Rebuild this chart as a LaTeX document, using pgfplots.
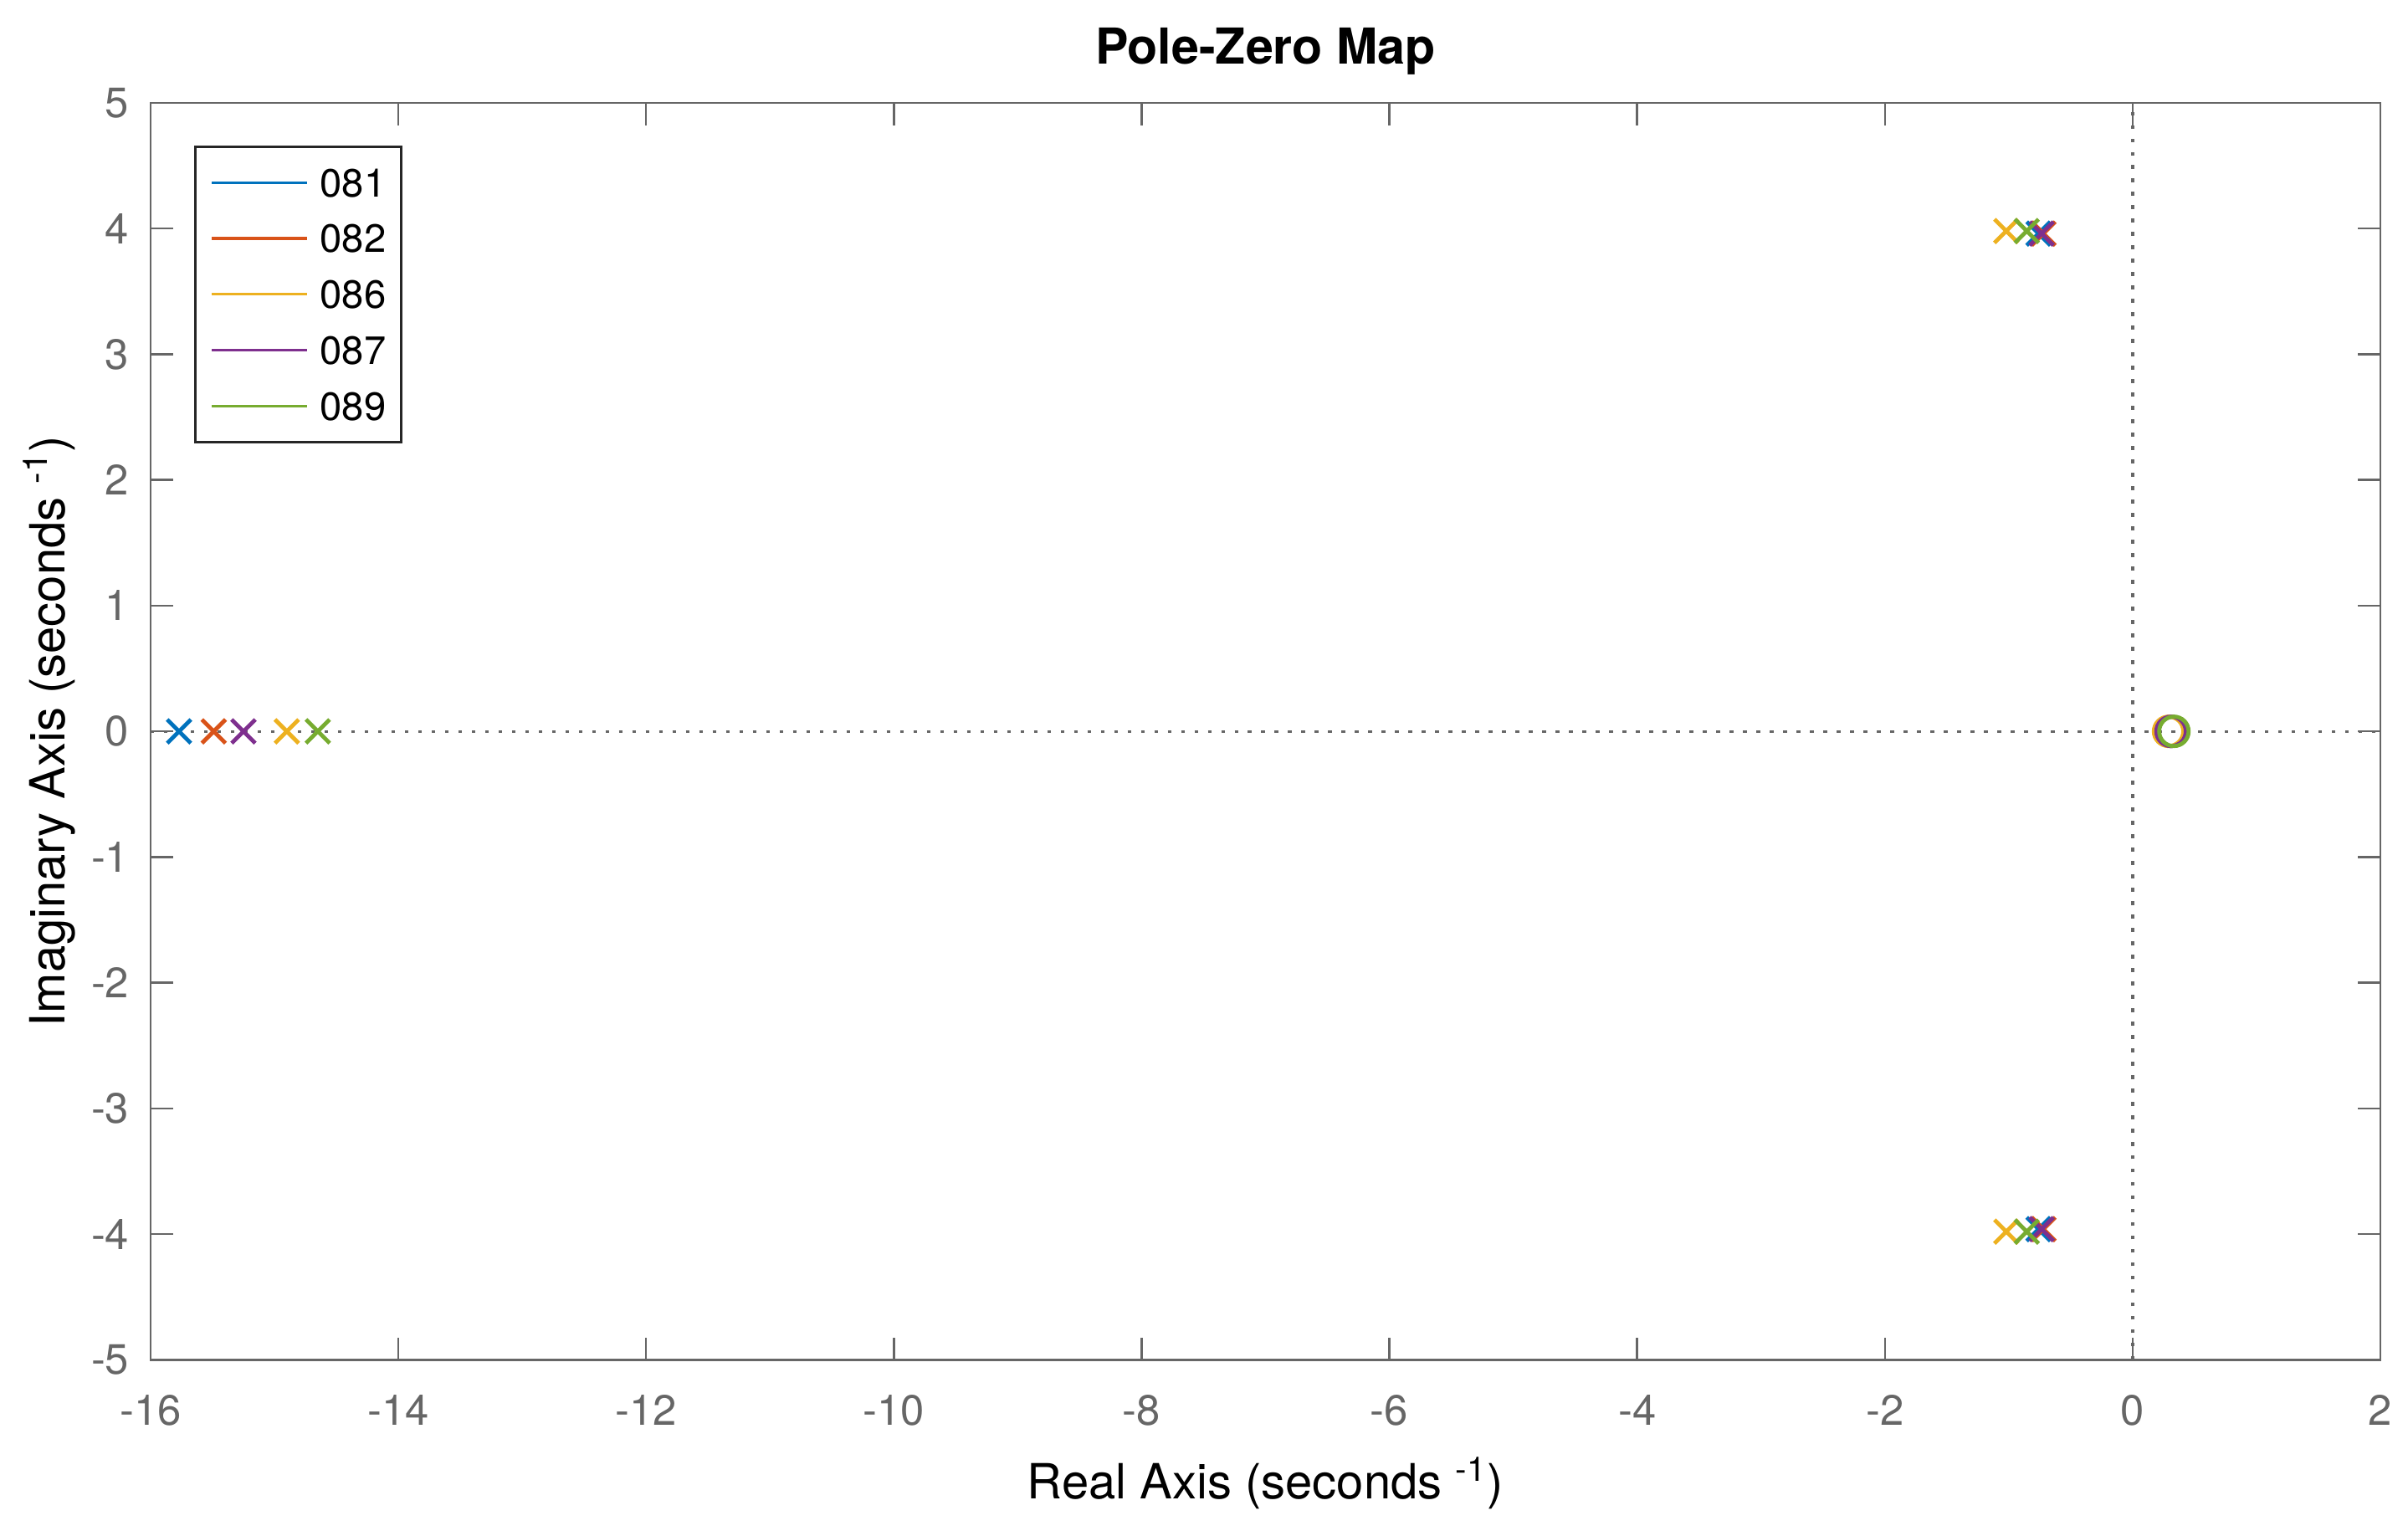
\documentclass[border=0pt]{standalone}
\usepackage{fontspec}
\setmainfont{TeX Gyre Heros}
\usepackage{pgfplots}
\pgfplotsset{compat=1.18}
\definecolor{mblue}{RGB}{0,114,189}
\definecolor{mred}{RGB}{217,83,25}
\definecolor{myellow}{RGB}{237,177,32}
\definecolor{mpurple}{RGB}{126,47,142}
\definecolor{mgreen}{RGB}{119,172,48}
\definecolor{axgray}{RGB}{102,102,102}
\begin{document}
\begin{tikzpicture}
\begin{axis}[
  name=ax,
  scale only axis, width=666.5pt, height=375.75pt,
  xmin=-16, xmax=2, ymin=-5, ymax=5,
  xtick={-16,-14,...,2}, ytick={-5,-4,...,5},
  tick align=inside, major tick length=6.7pt,
  axis line style={axgray, line width=0.65pt},
  every tick/.style={axgray, line width=0.65pt},
  /pgf/number format/assume math mode=true,
  tick label style={font=\fontsize{12.7}{15}\selectfont, text=axgray},
  xticklabel style={anchor=north, inner sep=0pt, yshift=-10.25pt},
  yticklabel style={anchor=east, inner sep=0pt, xshift=-6.25pt},
  title={\bfseries Pole-Zero Map},
  title style={font=\fontsize{14.8}{17}\selectfont, at={(axis description cs:0.5,1.0146)}, anchor=base, inner sep=0pt},
  xlabel={Real Axis (seconds \textsuperscript{-1})},
  ylabel={Imaginary Axis (seconds \textsuperscript{-1})},
  label style={font=\fontsize{14.5}{17}\selectfont},
  xlabel style={at={(axis description cs:0.5,-0.1104)}, anchor=base, inner sep=0pt},
  ylabel style={at={(axis description cs:-0.0383,0.5)}, anchor=base, inner sep=0pt},
  legend style={at={(0.0195,0.966)}, anchor=north west, draw=black!85, line width=0.75pt,
    font=\fontsize{11.8}{13}\selectfont, inner xsep=4.5pt, inner ysep=6.5pt,
    nodes={inner sep=0pt, text height=8.4pt, text depth=0pt}, row sep=8.3pt,
    column sep=3.5pt},
  legend cell align=left,
]
\addplot[forget plot, axgray, line width=0.8pt, dash pattern=on 1.1pt off 2.9pt] coordinates {(-16,0) (2,0)};
\addplot[forget plot, axgray, line width=0.8pt, dash pattern=on 1.1pt off 2.9pt] coordinates {(0,-5) (0,5)};

\addplot[mblue, only marks, mark=x, mark size=5pt, line width=1.2pt,
  legend image code/.code={\draw[line width=0.8pt] (0pt,0pt) -- (28.5pt,0pt);}]
  coordinates {(-15.77,0) (-0.76,3.96) (-0.76,-3.96)};
\addlegendentry{081}
\addplot[mblue, only marks, mark=o, mark size=4.4pt, line width=1.2pt, forget plot] coordinates {(0.31,0)};

\addplot[mred, only marks, mark=x, mark size=5pt, line width=1.2pt,
  legend image code/.code={\draw[line width=0.8pt] (0pt,0pt) -- (28.5pt,0pt);}]
  coordinates {(-15.49,0) (-0.72,3.96) (-0.72,-3.96)};
\addlegendentry{082}
\addplot[mred, only marks, mark=o, mark size=4.4pt, line width=1.2pt, forget plot] coordinates {(0.31,0)};

\addplot[myellow, only marks, mark=x, mark size=5pt, line width=1.2pt,
  legend image code/.code={\draw[line width=0.8pt] (0pt,0pt) -- (28.5pt,0pt);}]
  coordinates {(-14.90,0) (-1.02,3.98) (-1.02,-3.98)};
\addlegendentry{086}
\addplot[myellow, only marks, mark=o, mark size=4.4pt, line width=1.2pt, forget plot] coordinates {(0.29,0)};

\addplot[mpurple, only marks, mark=x, mark size=5pt, line width=1.2pt,
  legend image code/.code={\draw[line width=0.8pt] (0pt,0pt) -- (28.5pt,0pt);}]
  coordinates {(-15.25,0) (-0.735,3.96) (-0.735,-3.96)};
\addlegendentry{087}
\addplot[mpurple, only marks, mark=o, mark size=4.4pt, line width=1.2pt, forget plot] coordinates {(0.31,0)};

\addplot[mgreen, only marks, mark=x, mark size=5pt, line width=1.2pt,
  legend image code/.code={\draw[line width=0.8pt] (0pt,0pt) -- (28.5pt,0pt);}]
  coordinates {(-14.65,0) (-0.855,3.98) (-0.855,-3.98)};
\addlegendentry{089}
\addplot[mgreen, only marks, mark=o, mark size=4.4pt, line width=1.2pt, forget plot] coordinates {(0.333,0)};
\end{axis}
\pgfresetboundingbox
\path[use as bounding box] ([shift={(-45pt,-49.5pt)}]ax.south west) rectangle ([shift={(8.25pt,30.75pt)}]ax.north east);
\end{tikzpicture}
\end{document}
